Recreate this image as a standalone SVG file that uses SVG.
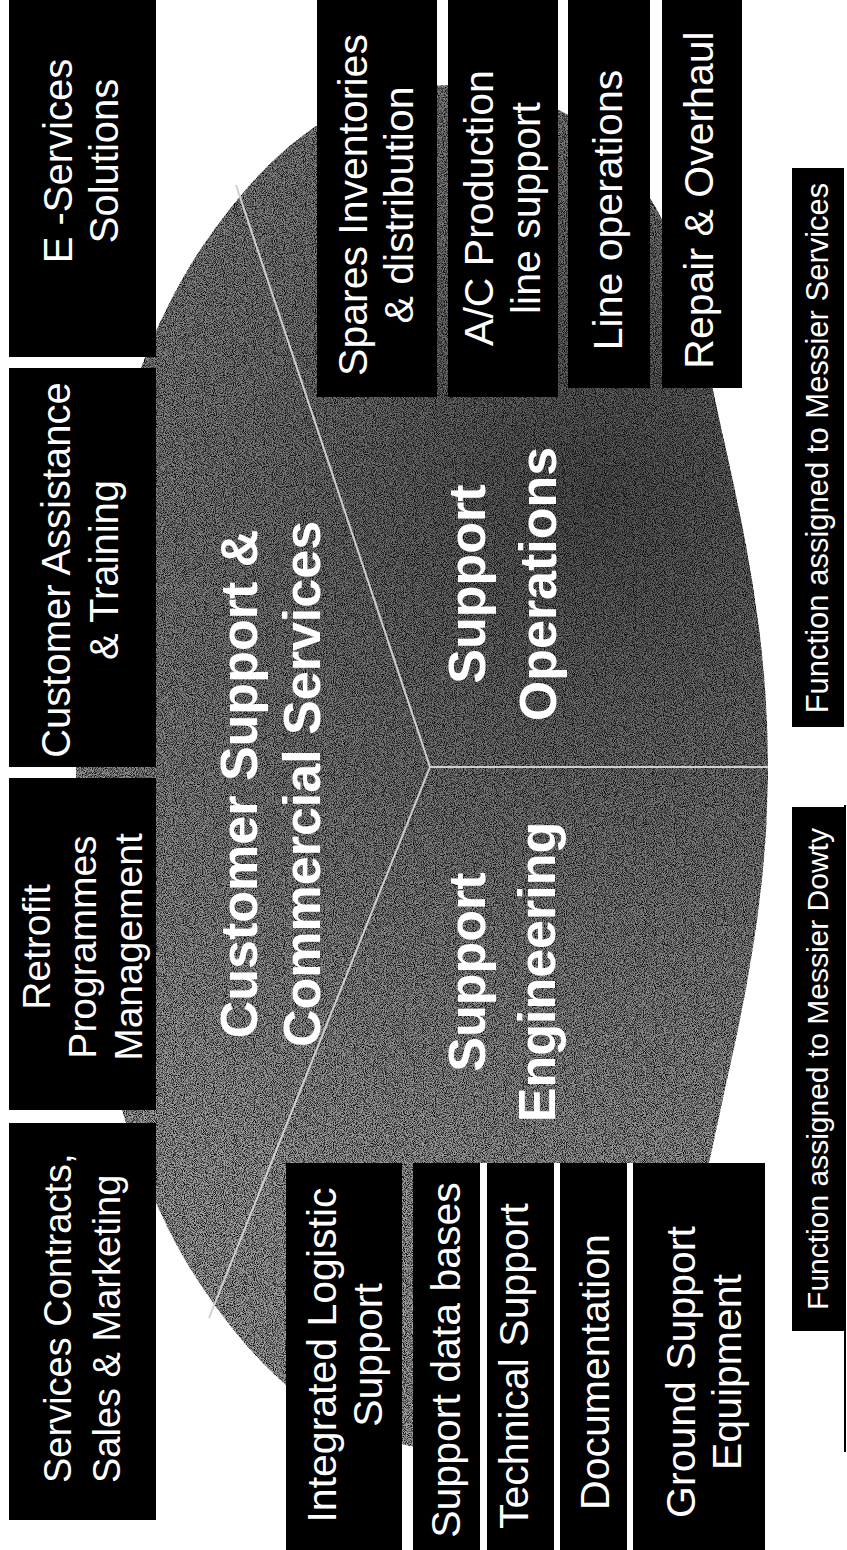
<svg xmlns="http://www.w3.org/2000/svg" width="847" height="1550" viewBox="0 0 847 1550">
  <style>
    .box { fill: #000; }
    .mat { fill: #fff; }
    .t { font-family: "Liberation Sans", Arial, sans-serif; fill: #fff; font-size: 41px; text-anchor: middle; }
    .ts { text-anchor: start; font-size: 38px; }
    .h { font-family: "Liberation Sans", Arial, sans-serif; font-weight: bold; fill: #fff; font-size: 52px; text-anchor: middle; }
    .lbl { font-size: 30px; }
    .dv { stroke: #cfcfcf; stroke-width: 2; fill: none; }
    .rule { stroke: #000; stroke-width: 2; fill: none; }
  </style>
  <defs>
    <radialGradient id="shade" gradientUnits="userSpaceOnUse" cx="1060" cy="600" r="760">
      <stop offset="0" stop-color="#555555"/>
      <stop offset="0.45" stop-color="#7c7c7c"/>
      <stop offset="1" stop-color="#a4a4a4"/>
    </radialGradient>
    <filter id="grain" x="0" y="0" width="100%" height="100%" color-interpolation-filters="sRGB">
      <feTurbulence type="fractalNoise" baseFrequency="1.1" numOctaves="1" seed="5" result="noise"/>
      <feColorMatrix in="noise" type="matrix" values="3 0 0 0 -0.8  3 0 0 0 -0.8  3 0 0 0 -0.8  0 0 0 0 1" result="g"/>
      <feBlend in="SourceGraphic" in2="g" mode="multiply" result="mix"/>
      <feComposite in="mix" in2="SourceGraphic" operator="in"/>
    </filter>
  </defs>
  <rect x="0" y="0" width="847" height="1550" fill="#fff"/>
  <g transform="translate(0,1550) rotate(-90)">
    <!-- central dome -->
    <g id="dome">
      <path fill="url(#shade)" filter="url(#grain)" d="M 783,76 C 990,76 1180,120 1300,200 C 1420,280 1465,360 1465,450 C 1465,580 1380,670 1200,705 C 1080,728 950,768 783,768 C 616,768 486,728 366,705 C 186,670 101,580 101,450 C 101,360 146,280 266,200 C 386,120 576,76 783,76 Z"/>
    </g>
    <g id="connectors">
      <line class="dv" x1="232" y1="209" x2="783" y2="430"/>
      <line class="dv" x1="783" y1="430" x2="1365" y2="236"/>
      <line class="dv" x1="783" y1="430" x2="783" y2="768"/>
    </g>
    <g id="region-titles">
      <text class="h" x="766" y="257">Customer Support &amp;</text>
      <text class="h" x="766" y="320">Commercial Services</text>
      <text class="h" x="578" y="485">Support</text>
      <text class="h" x="578" y="555">Engineering</text>
      <text class="h" x="966" y="485">Support</text>
      <text class="h" x="966" y="556">Operations</text>
    </g>
    <!-- top row -->
    <g id="n-services">
      <rect class="box" x="30" y="9" width="397" height="147"/>
      <text class="t ts" x="67" y="71">Services Contracts,</text>
      <text class="t ts" x="67" y="120">Sales &amp; Marketing</text>
    </g>
    <g id="n-retrofit">
      <rect class="box" x="440" y="9" width="332" height="147"/>
      <text class="t" x="603" y="50" style="font-size:39px">Retrofit</text>
      <text class="t" x="603" y="96" style="font-size:39px">Programmes</text>
      <text class="t" x="603" y="142" style="font-size:39px">Management</text>
    </g>
    <g id="n-assist">
      <rect class="box" x="783" y="9" width="399" height="147"/>
      <text class="t" x="980" y="70" style="font-size:40px">Customer Assistance</text>
      <text class="t" x="980" y="118" style="font-size:40px">&amp; Training</text>
    </g>
    <g id="n-eservices">
      <rect class="box" x="1193" y="9" width="360" height="147"/>
      <text class="t" x="1389" y="72" style="font-size:40px">E -Services</text>
      <text class="t" x="1389" y="118" style="font-size:40px">Solutions</text>
    </g>
    <!-- left column -->
    <rect class="mat" x="-20" y="478" width="407" height="292"/>
    <g id="n-ils">
      <rect class="box" x="-20" y="286" width="407" height="116"/>
      <text class="t" x="195" y="336">Integrated Logistic</text>
      <text class="t" x="195" y="382">Support</text>
    </g>
    <g id="n-sdb">
      <rect class="box" x="-20" y="413" width="407" height="67"/>
      <text class="t" x="190" y="460">Support data bases</text>
    </g>
    <g id="n-ts">
      <rect class="box" x="-20" y="487" width="407" height="67"/>
      <text class="t" x="184" y="528">Technical Support</text>
    </g>
    <g id="n-doc">
      <rect class="box" x="-20" y="560" width="407" height="67"/>
      <text class="t" x="178" y="609">Documentation</text>
    </g>
    <g id="n-gse">
      <rect class="box" x="-20" y="633" width="407" height="132"/>
      <text class="t" x="178" y="695">Ground Support</text>
      <text class="t" x="178" y="741">Equipment</text>
    </g>
    <!-- right column -->
    <g id="n-spares">
      <rect class="box" x="1153" y="317" width="400" height="120"/>
      <text class="t" x="1345" y="367">Spares Inventories</text>
      <text class="t" x="1345" y="413">&amp; distribution</text>
    </g>
    <g id="n-acprod">
      <rect class="box" x="1153" y="448" width="400" height="110"/>
      <text class="t" x="1342" y="493">A/C Production</text>
      <text class="t" x="1342" y="540">line support</text>
    </g>
    <g id="n-lineops">
      <rect class="box" x="1162" y="568" width="391" height="82"/>
      <text class="t" x="1340" y="622">Line operations</text>
    </g>
    <g id="n-repair">
      <rect class="box" x="1162" y="662" width="391" height="80"/>
      <text class="t" x="1350" y="713">Repair &amp; Overhaul</text>
    </g>
    <!-- legend labels -->
    <g id="n-dowty">
      <rect class="box" x="219" y="792" width="524" height="52"/>
      <text class="t lbl" x="481" y="828">Function assigned to Messier Dowty</text>
    </g>
    <line class="rule" x1="98" y1="845" x2="745" y2="845"/>
    <g id="n-messier">
      <rect class="box" x="823" y="792" width="559" height="52"/>
      <text class="t lbl" x="1102" y="828" style="font-size:31px">Function assigned to Messier Services</text>
    </g>
  </g>
</svg>
